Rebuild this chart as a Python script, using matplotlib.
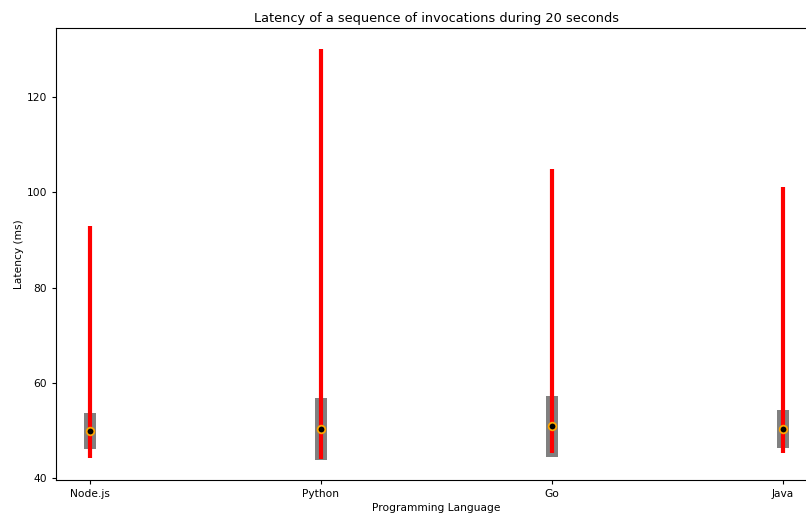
import matplotlib
matplotlib.use("Agg")
import matplotlib.pyplot as plt

languages = ["Node.js", "Python", "Go", "Java"]
lat_min = [44.2, 44.0, 45.2, 45.2]
lat_max = [92.9, 130.1, 104.9, 101.1]
lat_low = [46.1, 43.8, 44.4, 46.3]
lat_high = [53.6, 56.8, 57.2, 54.3]
lat_mean = [49.9, 50.3, 50.9, 50.3]

fig = plt.figure(figsize=(8.06, 5.15), dpi=100)
ax = fig.add_axes([56 / 806, 35 / 515, 761 / 806, 452 / 515])

x = list(range(len(languages)))
heights = [h - l for h, l in zip(lat_high, lat_low)]
ax.bar(x, heights, bottom=lat_low, width=0.052, color="gray", zorder=1)
ax.vlines(x, lat_min, lat_max, color="red", linewidth=3, zorder=2)
ax.plot(x, lat_mean, linestyle="none", marker="o", markersize=5.5,
        markerfacecolor="black", markeredgecolor="orange", markeredgewidth=1.3, zorder=3)

ax.set_xticks(x)
ax.set_xticklabels(languages)
ax.set_xlim(-0.147, 3.147)
ax.set_ylim(39.6, 134.5)
ax.set_yticks([40, 60, 80, 100, 120])
ax.tick_params(labelsize=7.7, length=3, width=0.8)
ax.set_xlabel("Programming Language", fontsize=7.7, labelpad=3)
ax.set_ylabel("Latency (ms)", fontsize=7.7, labelpad=2)
ax.set_title("Latency of a sequence of invocations during 20 seconds", fontsize=9.3, pad=4)
for s in ax.spines.values():
    s.set_linewidth(0.8)

fig.savefig("out.png", dpi=100)
